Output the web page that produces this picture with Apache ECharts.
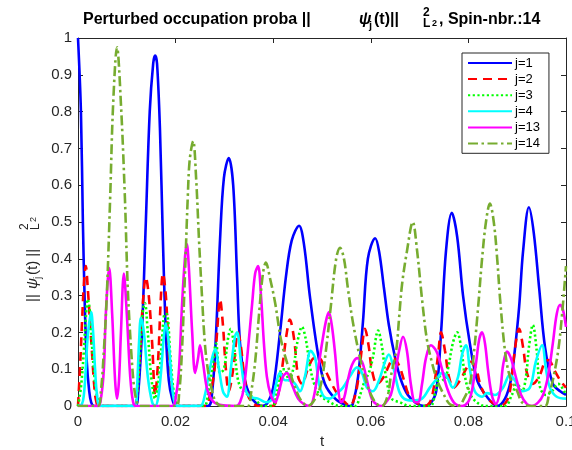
<!DOCTYPE html>
<html><head><meta charset="utf-8">
<script src="https://cdn.jsdelivr.net/npm/echarts@6/dist/echarts.min.js"></script>
<style>html,body{margin:0;padding:0;background:#fff}#c{width:572px;height:450px}</style>
</head><body><div id="c"></div>
<script>
const seriesNames = ['j=1', 'j=2', 'j=3', 'j=4', 'j=13', 'j=14'];
const xTickLabels = ['0', '0.02', '0.04', '0.06', '0.08', '0.1'];
const yTickLabels = ['0', '0.1', '0.2', '0.3', '0.4', '0.5', '0.6', '0.7', '0.8', '0.9', '1'];

const j1 = [[0,1],[0.0006,0.8],[0.0010,0.5],[0.0014,0.27],[0.0018,0.12],[0.0023,0.04],[0.0027,0.01],[0.0033,0],
[0.0117,0],[0.0123,0.03],[0.0131,0.2],[0.0139,0.5],[0.0147,0.8],[0.0154,0.93],[0.0158,0.952],[0.0162,0.93],[0.0168,0.75],[0.0174,0.45],[0.0180,0.2],[0.0186,0.07],[0.0193,0.02],[0.0201,0],
[0.0266,0],[0.0275,0.04],[0.0283,0.2],[0.0291,0.45],[0.0299,0.62],[0.0309,0.674],[0.0318,0.6],[0.0326,0.35],[0.0332,0.17],[0.0342,0.07],[0.0352,0.03],[0.0363,0.01],[0.0377,0],
[0.0389,0.01],[0.0400,0.05],[0.0414,0.2],[0.0426,0.35],[0.0438,0.45],[0.0453,0.49],[0.0463,0.44],[0.0475,0.3],[0.0492,0.14],[0.0506,0.06],[0.0527,0.02],[0.0547,0.003],[0.0557,0],
[0.0563,0.005],[0.0574,0.08],[0.0584,0.23],[0.0594,0.40],[0.0609,0.456],[0.0617,0.42],[0.0627,0.32],[0.0637,0.22],[0.0650,0.13],[0.0662,0.07],[0.0676,0.03],[0.0693,0.008],[0.0709,0],
[0.0721,0.005],[0.0734,0.04],[0.0744,0.2],[0.0754,0.42],[0.0766,0.525],[0.0777,0.46],[0.0789,0.3],[0.0803,0.17],[0.0818,0.07],[0.0838,0.025],[0.0859,0],
[0.0875,0.02],[0.0887,0.07],[0.0895,0.15],[0.0904,0.27],[0.0912,0.42],[0.0924,0.54],[0.0934,0.47],[0.0945,0.32],[0.0957,0.16],[0.0973,0.06],[0.0988,0.04],[0.1,0.03]];

const j2 = [[0,0],[0.0004,0.1],[0.0008,0.22],[0.0012,0.33],[0.0016,0.38],[0.0020,0.32],[0.0025,0.22],[0.0029,0.14],[0.0033,0.06],[0.0037,0.015],[0.0043,0],
[0.0115,0],[0.0121,0.04],[0.0127,0.15],[0.0133,0.28],[0.0139,0.35],[0.0145,0.3],[0.0152,0.17],[0.0158,0.03],[0.0164,0.12],[0.0170,0.3],[0.0174,0.36],[0.0180,0.3],[0.0186,0.15],[0.0193,0.05],[0.0199,0.01],[0.0209,0],
[0.0262,0],[0.0270,0.03],[0.0279,0.09],[0.0285,0.2],[0.0291,0.29],[0.0297,0.22],[0.0303,0.1],[0.0309,0.04],[0.0318,0.1],[0.0328,0.2],[0.0334,0.16],[0.0340,0.09],[0.0348,0.03],[0.0357,0.01],[0.0369,0],
[0.0398,0],[0.0410,0.03],[0.0420,0.12],[0.0428,0.2],[0.0434,0.235],[0.0443,0.18],[0.0451,0.08],[0.0459,0.06],[0.0471,0.1],[0.0484,0.13],[0.0494,0.13],[0.0506,0.1],[0.0520,0.06],[0.0533,0.03],[0.0547,0.01],[0.0557,0],
[0.0566,0.02],[0.0574,0.07],[0.0582,0.16],[0.0588,0.21],[0.0596,0.16],[0.0602,0.1],[0.0613,0.06],[0.0627,0.08],[0.0637,0.11],[0.0647,0.13],[0.0658,0.11],[0.0668,0.07],[0.0678,0.03],[0.0693,0.01],[0.0709,0],
[0.0721,0.01],[0.0729,0.05],[0.0738,0.14],[0.0744,0.2],[0.0752,0.15],[0.0760,0.08],[0.0770,0.05],[0.0783,0.07],[0.0795,0.1],[0.0805,0.12],[0.0816,0.1],[0.0824,0.06],[0.0834,0.03],[0.0848,0.01],[0.0865,0],
[0.0877,0.01],[0.0885,0.04],[0.0893,0.13],[0.0904,0.21],[0.0912,0.16],[0.0920,0.09],[0.0932,0.06],[0.0945,0.08],[0.0957,0.12],[0.0965,0.125],[0.0975,0.1],[0.0988,0.07],[0.1,0.05]];

const j3 = [[0,0],[0.0006,0.05],[0.0012,0.15],[0.0016,0.24],[0.0020,0.29],[0.0025,0.25],[0.0029,0.16],[0.0033,0.09],[0.0037,0.04],[0.0043,0.01],[0.0049,0],
[0.0115,0],[0.0121,0.03],[0.0127,0.14],[0.0133,0.26],[0.0137,0.28],[0.0143,0.2],[0.0150,0.08],[0.0158,0.02],[0.0166,0.08],[0.0172,0.18],[0.0178,0.25],[0.0182,0.25],[0.0189,0.14],[0.0195,0.05],[0.0201,0.01],[0.0209,0],
[0.0258,0],[0.0266,0.03],[0.0275,0.1],[0.0283,0.17],[0.0291,0.09],[0.0299,0.1],[0.0307,0.18],[0.0313,0.21],[0.0320,0.16],[0.0328,0.07],[0.0338,0.04],[0.0350,0.03],[0.0363,0.02],[0.0377,0],
[0.0398,0],[0.0408,0.04],[0.0418,0.1],[0.0424,0.1],[0.0432,0.07],[0.0441,0.1],[0.0449,0.17],[0.0459,0.215],[0.0467,0.18],[0.0475,0.11],[0.0484,0.06],[0.0496,0.03],[0.0516,0.01],[0.0537,0],
[0.0568,0],[0.0578,0.03],[0.0588,0.07],[0.0596,0.09],[0.0604,0.13],[0.0615,0.205],[0.0623,0.16],[0.0631,0.08],[0.0643,0.02],[0.0660,0.01],[0.0680,0],
[0.0721,0],[0.0734,0.05],[0.0742,0.08],[0.0750,0.07],[0.0758,0.1],[0.0768,0.17],[0.0777,0.2],[0.0785,0.16],[0.0793,0.08],[0.0801,0.04],[0.0813,0.015],[0.0834,0],
[0.0875,0],[0.0889,0.03],[0.0900,0.06],[0.0910,0.04],[0.0918,0.08],[0.0924,0.16],[0.0932,0.22],[0.0940,0.15],[0.0947,0.05],[0.0959,0.03],[0.0971,0.04],[0.0984,0.06],[0.1,0.03]];

const j4 = [[0,0],[0.0008,0.005],[0.0012,0.03],[0.0016,0.1],[0.0020,0.19],[0.0027,0.255],[0.0031,0.2],[0.0035,0.1],[0.0039,0.03],[0.0045,0],
[0.0117,0],[0.0121,0.05],[0.0125,0.17],[0.0129,0.24],[0.0135,0.2],[0.0143,0.08],[0.0152,0.01],[0.0158,0],[0.0164,0.02],[0.0170,0.09],[0.0176,0.19],[0.0180,0.225],[0.0186,0.17],[0.0193,0.05],[0.0199,0.005],[0.0205,0],
[0.0250,0],[0.0260,0.03],[0.0270,0.1],[0.0281,0.155],[0.0289,0.1],[0.0297,0.04],[0.0305,0.025],[0.0313,0.1],[0.0322,0.19],[0.0326,0.2],[0.0334,0.12],[0.0342,0.05],[0.0352,0.025],[0.0369,0.02],[0.0385,0.01],[0.0398,0.02],
[0.0406,0.06],[0.0414,0.09],[0.0424,0.07],[0.0434,0.07],[0.0445,0.06],[0.0455,0.04],[0.0465,0.08],[0.0477,0.15],[0.0486,0.13],[0.0494,0.06],[0.0504,0.025],[0.0516,0.02],[0.0531,0.035],[0.0543,0.05],[0.0557,0.08],[0.0572,0.105],[0.0582,0.09],[0.0592,0.05],[0.0604,0.04],[0.0617,0.07],[0.0629,0.12],[0.0637,0.14],[0.0647,0.1],[0.0658,0.04],[0.0668,0.02],[0.0684,0.015],[0.0705,0.02],[0.0721,0.05],[0.0736,0.075],[0.0746,0.09],[0.0756,0.08],[0.0768,0.05],[0.0779,0.08],[0.0787,0.14],[0.0795,0.165],[0.0803,0.1],[0.0813,0.04],[0.0828,0.025],[0.0838,0.035],[0.0854,0.03],[0.0871,0.05],[0.0885,0.085],[0.0895,0.07],[0.0910,0.04],[0.0926,0.05],[0.0938,0.12],[0.0951,0.165],[0.0959,0.1],[0.0967,0.05],[0.0981,0.025],[0.1,0.02]];

const j13 = [[0,0],[0.0041,0],[0.0047,0.02],[0.0053,0.1],[0.0057,0.25],[0.0064,0.375],[0.0070,0.25],[0.0076,0.07],[0.0080,0.02],[0.0084,0.07],[0.0088,0.2],[0.0094,0.36],[0.0100,0.25],[0.0107,0.08],[0.0113,0.01],[0.0119,0],
[0.0193,0],[0.0201,0.03],[0.0207,0.1],[0.0213,0.27],[0.0219,0.4],[0.0223,0.44],[0.0227,0.38],[0.0234,0.2],[0.0240,0.09],[0.0246,0.13],[0.0250,0.165],[0.0256,0.12],[0.0264,0.05],[0.0275,0.015],[0.0291,0.003],[0.0324,0],
[0.0332,0.01],[0.0340,0.05],[0.0348,0.15],[0.0357,0.28],[0.0363,0.36],[0.0369,0.38],[0.0375,0.3],[0.0381,0.17],[0.0387,0.08],[0.0395,0.03],[0.0404,0.01],[0.0412,0.04],[0.0420,0.08],[0.0428,0.09],[0.0438,0.06],[0.0451,0.02],[0.0463,0.005],[0.0475,0],
[0.0484,0.03],[0.0492,0.1],[0.0500,0.17],[0.0508,0.23],[0.0514,0.255],[0.0520,0.22],[0.0527,0.14],[0.0533,0.05],[0.0539,0.01],[0.0545,0.02],[0.0553,0.07],[0.0561,0.11],[0.0572,0.13],[0.0582,0.12],[0.0592,0.07],[0.0602,0.02],[0.0613,0.003],[0.0623,0],
[0.0631,0.01],[0.0641,0.03],[0.0650,0.09],[0.0658,0.15],[0.0666,0.188],[0.0674,0.15],[0.0682,0.06],[0.0691,0.01],[0.0697,0.01],[0.0705,0.06],[0.0713,0.13],[0.0723,0.165],[0.0734,0.15],[0.0744,0.11],[0.0756,0.05],[0.0770,0.01],[0.0787,0],
[0.0799,0.01],[0.0807,0.04],[0.0816,0.12],[0.0822,0.18],[0.0828,0.2],[0.0834,0.17],[0.0840,0.1],[0.0848,0.03],[0.0856,0.005],[0.0865,0.04],[0.0871,0.11],[0.0879,0.148],[0.0887,0.13],[0.0897,0.08],[0.0908,0.03],[0.0920,0.005],[0.0930,0],
[0.0943,0.01],[0.0953,0.03],[0.0963,0.08],[0.0973,0.17],[0.0981,0.25],[0.0988,0.275],[0.0994,0.26],[0.1,0.215]];

const j14 = [[0,0],[0.0041,0],[0.0047,0.04],[0.0053,0.15],[0.0059,0.3],[0.0066,0.57],[0.0072,0.82],[0.0080,0.975],[0.0088,0.82],[0.0096,0.57],[0.0102,0.32],[0.0109,0.15],[0.0115,0.05],[0.0121,0.01],[0.0127,0],
[0.0201,0],[0.0207,0.03],[0.0213,0.15],[0.0219,0.35],[0.0225,0.57],[0.0229,0.67],[0.0236,0.72],[0.0242,0.62],[0.0248,0.45],[0.0254,0.3],[0.0260,0.17],[0.0266,0.1],[0.0275,0.04],[0.0283,0.01],[0.0295,0],[0.0348,0],
[0.0354,0.03],[0.0363,0.12],[0.0371,0.25],[0.0379,0.36],[0.0385,0.39],[0.0393,0.35],[0.0404,0.28],[0.0416,0.18],[0.0430,0.11],[0.0445,0.05],[0.0457,0.015],[0.0471,0],[0.0486,0.02],
[0.0498,0.06],[0.0508,0.15],[0.0518,0.27],[0.0529,0.4],[0.0537,0.43],[0.0545,0.4],[0.0553,0.32],[0.0563,0.23],[0.0578,0.13],[0.0592,0.06],[0.0609,0.01],[0.0623,0],
[0.0635,0.03],[0.0641,0.08],[0.0652,0.15],[0.0658,0.24],[0.0664,0.33],[0.0674,0.42],[0.0686,0.5],[0.0695,0.42],[0.0705,0.29],[0.0715,0.18],[0.0725,0.12],[0.0736,0.07],[0.0750,0.03],[0.0762,0.005],[0.0779,0],
[0.0791,0.02],[0.0803,0.06],[0.0811,0.14],[0.0820,0.27],[0.0828,0.4],[0.0836,0.5],[0.0844,0.55],[0.0852,0.5],[0.0859,0.4],[0.0865,0.29],[0.0875,0.15],[0.0885,0.08],[0.0900,0.04],[0.0910,0.01],[0.0926,0],[0.0957,0],
[0.0965,0.03],[0.0973,0.07],[0.0984,0.15],[0.0992,0.25],[0.1,0.38]];

const seriesData = [j1, j2, j3, j4, j13, j14];
const colors = ['#0000ff', '#ff0000', '#00ff00', '#00ffff', '#ff00ff', '#77ac30'];
const dashes = ['solid', [9, 6], [2.2, 2.5], 'solid', 'solid', [10, 3.5, 2.5, 3.5]];

const FONT = '"Liberation Sans", Arial, Helvetica, sans-serif';
const AX = '#262626';

const chart = echarts.init(document.getElementById('c'), null, {renderer: 'canvas'});

const series = seriesNames.map((n, i) => ({
  name: n, type: 'line', data: seriesData[i], showSymbol: false, symbol: 'none',
  smooth: 0.35, clip: true,
  lineStyle: {color: colors[i], width: 2.6, type: dashes[i]},
  itemStyle: {color: colors[i]},
  z: 2 + i, animation: false
}));

const xLab = v => {
  const k = Math.round(v / 0.02);
  return xTickLabels[k] !== undefined ? xTickLabels[k] : '';
};
const yLab = v => {
  const k = Math.round(v / 0.1);
  return yTickLabels[k] !== undefined ? yTickLabels[k] : '';
};

const tf = (s, w) => (w || 'normal') + ' ' + s + 'px ' + FONT;

chart.setOption({
  animation: false,
  backgroundColor: '#ffffff',
  grid: {left: 78, right: 6, top: 38, bottom: 44, containLabel: false, outerBoundsMode: 'none'},
  xAxis: [{
    type: 'value', min: 0, max: 0.1, interval: 0.02, position: 'bottom',
    name: 't', nameLocation: 'middle', nameGap: 27,
    nameTextStyle: {color: AX, fontSize: 15, fontFamily: FONT},
    axisLine: {show: true, onZero: false, lineStyle: {color: AX, width: 1}},
    axisTick: {show: true, inside: true, length: 5, lineStyle: {color: AX}},
    axisLabel: {color: AX, fontSize: 15, fontFamily: FONT, margin: 8, formatter: xLab, hideOverlap: false},
    splitLine: {show: false}
  }, {
    type: 'value', min: 0, max: 0.1, interval: 0.02, position: 'top',
    axisLine: {show: true, onZero: false, lineStyle: {color: AX, width: 1}},
    axisTick: {show: true, inside: true, length: 5, lineStyle: {color: AX}},
    axisLabel: {show: false}, splitLine: {show: false}
  }],
  yAxis: [{
    type: 'value', min: 0, max: 1, interval: 0.1, position: 'left',
    axisLine: {show: true, onZero: false, lineStyle: {color: AX, width: 1}},
    axisTick: {show: true, inside: true, length: 5, lineStyle: {color: AX}},
    axisLabel: {color: AX, fontSize: 15, fontFamily: FONT, margin: 6, formatter: yLab},
    splitLine: {show: false}
  }, {
    type: 'value', min: 0, max: 1, interval: 0.1, position: 'right',
    axisLine: {show: true, onZero: false, lineStyle: {color: AX, width: 1}},
    axisTick: {show: true, inside: true, length: 5, lineStyle: {color: AX}},
    axisLabel: {show: false}, splitLine: {show: false}
  }],
  legend: {
    data: seriesNames, orient: 'vertical', left: 462, top: 53,
    padding: [3.5, 9, 3.3, 5], itemWidth: 44, itemHeight: 14, itemGap: 3.1,
    backgroundColor: '#ffffff', borderColor: AX, borderWidth: 1,
    itemStyle: {opacity: 0},
    textStyle: {color: '#000', fontSize: 13, fontFamily: FONT, padding: [0, 0, 0, -2]},
    selectedMode: false
  },
  graphic: [
    {type: 'text', x: 83, y: 20, style: {text: 'Perturbed occupation proba ||', font: tf(16, 'bold'), fill: '#000', textVerticalAlign: 'middle'}},
    {type: 'text', x: 359, y: 20, style: {text: 'ψ', font: 'italic bold 16px ' + FONT, fill: '#000', textVerticalAlign: 'middle'}},
    {type: 'text', x: 369, y: 26, style: {text: 'j', font: tf(11, 'bold'), fill: '#000', textVerticalAlign: 'middle'}},
    {type: 'text', x: 374, y: 20, style: {text: '(t)||', font: tf(16, 'bold'), fill: '#000', textVerticalAlign: 'middle'}},
    {type: 'text', x: 423, y: 13, style: {text: '2', font: tf(12, 'bold'), fill: '#000', textVerticalAlign: 'middle'}},
    {type: 'text', x: 423, y: 24, style: {text: 'L', font: tf(12, 'bold'), fill: '#000', textVerticalAlign: 'middle'}},
    {type: 'text', x: 432, y: 24, style: {text: '2', font: tf(9, 'bold'), fill: '#000', textVerticalAlign: 'middle'}},
    {type: 'text', x: 439, y: 20, style: {text: ', Spin-nbr.:14', font: tf(16, 'bold'), fill: '#000', textVerticalAlign: 'middle'}},
    {type: 'group', x: 33, y: 222, rotation: Math.PI / 2, children: [
      {type: 'text', x: -80, y: 0, style: {text: '|| ', font: tf(15), fill: AX, textVerticalAlign: 'middle'}},
      {type: 'text', x: -67, y: 0, style: {text: 'ψ', font: 'italic 15px ' + FONT, fill: AX, textVerticalAlign: 'middle'}},
      {type: 'text', x: -57, y: 5, style: {text: 'j', font: tf(10), fill: AX, textVerticalAlign: 'middle'}},
      {type: 'text', x: -53, y: 0, style: {text: '(t) ||', font: tf(15), fill: AX, textVerticalAlign: 'middle'}},
      {type: 'text', x: -8, y: -8, style: {text: '2', font: tf(12), fill: AX, textVerticalAlign: 'middle'}},
      {type: 'text', x: -8, y: 3, style: {text: 'L', font: tf(12), fill: AX, textVerticalAlign: 'middle'}},
      {type: 'text', x: 0, y: 1, style: {text: '2', font: tf(9), fill: AX, textVerticalAlign: 'middle'}}
    ]}
  ],
  series: series
});
</script>
</body></html>
